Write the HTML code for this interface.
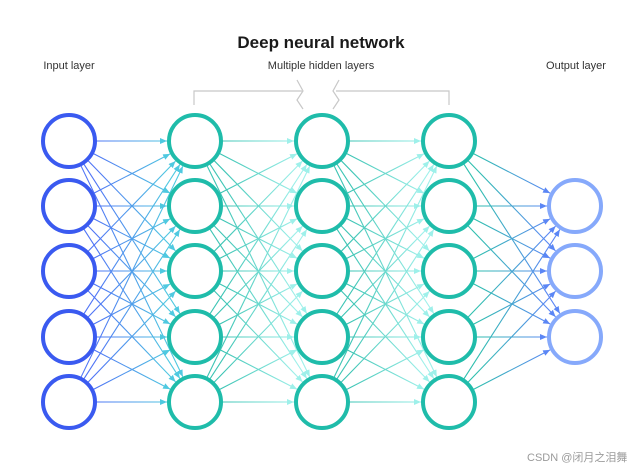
<!DOCTYPE html>
<html><head><meta charset="utf-8"><style>
html,body{margin:0;padding:0;background:#fff;}
svg{display:block;}
text{font-family:"Liberation Sans","Noto Sans CJK SC",sans-serif;}
</style></head><body>
<svg id="s" width="633" height="469" viewBox="0 0 633 469" xmlns="http://www.w3.org/2000/svg">
<defs>
<linearGradient id="g1" gradientUnits="userSpaceOnUse" x1="95" y1="0" x2="170" y2="0"><stop offset="0" stop-color="#4f74f5"/><stop offset="1" stop-color="#4fc9e0"/></linearGradient>
<linearGradient id="g2" gradientUnits="userSpaceOnUse" x1="222" y1="0" x2="297" y2="0"><stop offset="0" stop-color="#3cc4b4"/><stop offset="1" stop-color="#9ef0ea"/></linearGradient>
<linearGradient id="g3" gradientUnits="userSpaceOnUse" x1="349" y1="0" x2="424" y2="0"><stop offset="0" stop-color="#3cc4b4"/><stop offset="1" stop-color="#9ef0ea"/></linearGradient>
<linearGradient id="g4" gradientUnits="userSpaceOnUse" x1="476" y1="0" x2="550" y2="0"><stop offset="0" stop-color="#2fbfae"/><stop offset="1" stop-color="#5b86f5"/></linearGradient>
</defs>
<text x="321" y="48" text-anchor="middle" font-size="17" font-weight="bold" fill="#1a1a1a">Deep neural network</text>
<text x="69" y="69" text-anchor="middle" font-size="11" fill="#333">Input layer</text>
<text x="321" y="69" text-anchor="middle" font-size="11" fill="#333">Multiple hidden layers</text>
<text x="576" y="69" text-anchor="middle" font-size="11" fill="#333">Output layer</text>
<g fill="none" stroke="#c8c8c8" stroke-width="1.2">
<polyline points="194,105 194,91 302,91"/>
<polyline points="336,91 449,91 449,105"/>
<polyline points="297,80 303,91 297,100 303,109"/>
<polyline points="339,80 333,91 339,100 333,109"/>
</g>
<g id="edges"></g>
<g id="nodes"></g>
<text x="527" y="461" font-size="11" fill="#9a9a9a">CSDN @闭月之泪舞</text>
</svg>
<script>
var ns="http://www.w3.org/2000/svg";
var X=[69,195,322,449,575];
var R5=[141,206,271,337,402],R3=[206,271,337];
var L=[R5,R5,R5,R5,R3];
var G=["g1","g2","g3","g4"];
var AC=["#4fc9e0","#9ef0ea","#9ef0ea","#5b86f5"];
var r=26;
var e=document.getElementById("edges"),n=document.getElementById("nodes");
var defs=document.querySelector("defs");
for(var i=0;i<4;i++){
 var m=document.createElementNS(ns,"marker");
 m.setAttribute("id","a"+i);m.setAttribute("markerWidth","8");m.setAttribute("markerHeight","8");
 m.setAttribute("refX","7");m.setAttribute("refY","3");m.setAttribute("orient","auto");m.setAttribute("markerUnits","userSpaceOnUse");
 var p=document.createElementNS(ns,"path");p.setAttribute("d","M0,0 L7,3 L0,6 z");p.setAttribute("fill",AC[i]);
 m.appendChild(p);defs.appendChild(m);
}
for(var i=0;i<4;i++){
 L[i].forEach(function(y1){L[i+1].forEach(function(y2){
  var x1=X[i],x2=X[i+1],dx=x2-x1,dy=y2-y1,d=Math.sqrt(dx*dx+dy*dy);
  var ux=dx/d,uy=dy/d;
  var l=document.createElementNS(ns,"line");
  l.setAttribute("x1",x1+ux*(r+1));l.setAttribute("y1",y1+uy*(r+1));
  l.setAttribute("x2",x2-ux*(r+2));l.setAttribute("y2",y2-uy*(r+2));
  l.setAttribute("stroke","url(#"+G[i]+")");l.setAttribute("stroke-width","1.1");
  l.setAttribute("marker-end","url(#a"+i+")");
  e.appendChild(l);
 });});
}
var C=["#3a5af0","#1fbcaa","#1fbcaa","#1fbcaa","#86a9fb"];
for(var i=0;i<5;i++){L[i].forEach(function(y){
 var c=document.createElementNS(ns,"circle");
 c.setAttribute("cx",X[i]);c.setAttribute("cy",y);c.setAttribute("r",r);
 c.setAttribute("fill","#fff");c.setAttribute("stroke",C[i]);c.setAttribute("stroke-width","4");
 n.appendChild(c);
});}
</script>
</body></html>
